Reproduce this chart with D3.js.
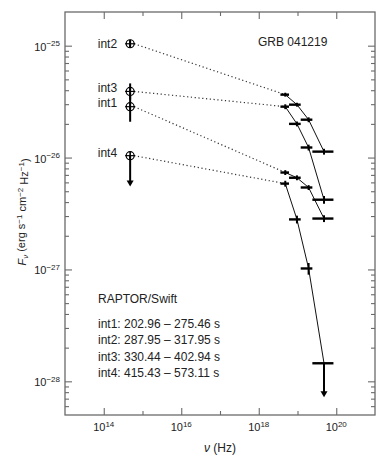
<!DOCTYPE html>
<html>
<head>
<meta charset="utf-8">
<script src="https://cdn.jsdelivr.net/npm/d3@7"></script>
<style>
body { margin: 0; background: #fff; }
text { font-family: Helvetica, Arial, "Liberation Sans", sans-serif; fill: #222; }
</style>
</head>
<body>
<div id="chart"></div>
<script>
// intervals and their time ranges
const intervals = ["int1", "int2", "int3", "int4"];
const timeRanges = ["202.96 \u2013 275.46 s", "287.95 \u2013 317.95 s", "330.44 \u2013 402.94 s", "415.43 \u2013 573.11 s"];

// RAPTOR optical point (Hz, erg s-1 cm-2 Hz-1)
const optNu = 4.8e14;
const optFlux = [2.85e-26, 1.04e-25, 3.9e-26, 1.04e-26];
const optLo = [2.09e-26, 0.96e-25, 3.3e-26, 5.5e-27];
const optHi = [3.55e-26, 1.12e-25, 4.6e-26, 1.04e-26];
const optLimit = [false, false, false, true];

// Swift BAT bands (keV)
const kevToHz = 2.418e17;
const batKeV = [20, 40, 80, 200];
const batLoKeV = [15, 25, 50, 100];
const batHiKeV = [25, 50, 100, 350];

const int1Flux = [7.35e-27, 6.6e-27, 5.4e-27, 2.85e-27];
const int2Flux = [3.65e-26, 2.97e-26, 2.18e-26, 1.13e-26];
const int3Flux = [2.85e-26, 2.0e-26, 1.23e-26, 4.2e-27];
const int4Flux = [5.85e-27, 2.8e-27, 1.02e-27, 1.45e-28];
// relative errors (null = upper limit)
const int1Err = [0.05, 0.05, 0.05, 0.07];
const int2Err = [0.04, 0.04, 0.05, 0.06];
const int3Err = [0.05, 0.05, 0.06, 0.08];
const int4Err = [0.06, 0.08, 0.12, null];
const int4LimitTo = 7.2e-29;

const xTickVals = [1e14, 1e15, 1e16, 1e17, 1e18, 1e19, 1e20];
const yTickVals = [1e-28, 1e-27, 1e-26, 1e-25];

const margin = { top: 12, right: 7, bottom: 43, left: 65 };
const width = 382 - margin.left - margin.right,
    height = 458 - margin.top - margin.bottom;

const svgRoot = d3.select("#chart").append("svg")
    .attr("width", 382)
    .attr("height", 458);
const svg = svgRoot.append("g")
    .attr("transform", `translate(${margin.left},${margin.top})`);

const x = d3.scaleLog().domain([1e13, 1e21]).range([0, width]);
const y = d3.scaleLog().domain([5e-29, 2e-25]).range([height, 0]);

const axisColor = "#6a6a6a";

// ---- axes / ticks ----
const evenDec = xTickVals.filter(v => Math.round(Math.log10(v)) % 2 === 0);
const oddDec = xTickVals.filter(v => Math.round(Math.log10(v)) % 2 !== 0);
const yMinor = [];
yTickVals.concat([1e-29]).forEach(d => {
    for (let k = 2; k <= 9; k++) {
        const v = k * d;
        if (v > 5e-29 && v < 2e-25) yMinor.push(v);
    }
});

function styleAxis(g) {
    g.select(".domain").remove();
    g.selectAll(".tick line").attr("stroke", axisColor).attr("stroke-width", 1.1);
    g.selectAll(".tick text").remove();
}

[[evenDec, 7], [oddDec, 4]].forEach(([vals, len]) => {
    svg.append("g").attr("transform", `translate(0,${height})`)
        .call(d3.axisBottom(x).tickValues(vals).tickSize(-len)).call(styleAxis);
    svg.append("g")
        .call(d3.axisTop(x).tickValues(vals).tickSize(-len)).call(styleAxis);
});
[[yTickVals, 7], [yMinor, 4]].forEach(([vals, len]) => {
    svg.append("g")
        .call(d3.axisLeft(y).tickValues(vals).tickSize(-len)).call(styleAxis);
    svg.append("g").attr("transform", `translate(${width},0)`)
        .call(d3.axisRight(y).tickValues(vals).tickSize(-len)).call(styleAxis);
});

svg.append("rect")
    .attr("width", width).attr("height", height)
    .attr("fill", "none").attr("stroke", axisColor).attr("stroke-width", 1.3);

function powerLabel(t, v) {
    const e = Math.round(Math.log10(v));
    t.append("tspan").text("10");
    t.append("tspan").attr("font-size", 8).attr("dy", "-0.55em")
        .text(e < 0 ? "\u2212" + (-e) : e);
}

svg.append("g").selectAll("text").data(evenDec).join("text")
    .attr("x", d => x(d)).attr("y", height + 16)
    .attr("text-anchor", "middle").attr("font-size", 11)
    .each(function (d) { powerLabel(d3.select(this), d); });

svg.append("g").selectAll("text").data(yTickVals).join("text")
    .attr("x", -5).attr("y", d => y(d) + 5)
    .attr("text-anchor", "end").attr("font-size", 11)
    .each(function (d) { powerLabel(d3.select(this), d); });

// axis titles
const xl = svg.append("text")
    .attr("x", width / 2).attr("y", height + 37)
    .attr("text-anchor", "middle").attr("font-size", 12);
xl.append("tspan").attr("font-style", "italic").text("\u03bd");
xl.append("tspan").text(" (Hz)");

const yl = svg.append("text")
    .attr("transform", `translate(-39,${200}) rotate(-90)`)
    .attr("text-anchor", "middle").attr("font-size", 11);
yl.append("tspan").attr("font-style", "italic").text("F");
yl.append("tspan").attr("font-style", "italic").attr("font-size", 8).attr("dy", "0.3em").text("\u03bd");
[[" (erg s", "\u22121"], [" cm", "\u22122"], [" Hz", "\u22121"]].forEach(([a, b], i) => {
    yl.append("tspan").attr("dy", i === 0 ? "-0.3em" : "0.45em").text(a);
    yl.append("tspan").attr("font-size", 8).attr("dy", "-0.45em").text(b);
});
yl.append("tspan").attr("dy", "0.45em").text(")");

// ---- data ----
const batNu = batKeV.map(e => e * kevToHz);
const xrayFlux = [int1Flux, int2Flux, int3Flux, int4Flux];
const xrayErr = [int1Err, int2Err, int3Err, int4Err];

const series = intervals.map((name, i) => ({
    name: name,
    pts: batNu.map((nu, j) => ({
        nu: nu, f: xrayFlux[i][j], err: xrayErr[i][j],
        lo: batLoKeV[j] * kevToHz, hi: batHiKeV[j] * kevToHz
    }))
}));

// dotted lines optical -> first BAT point
svg.append("g").selectAll("line").data(series).join("line")
    .attr("x1", x(optNu) + 4)
    .attr("y1", (d, i) => y(optFlux[i]))
    .attr("x2", d => x(d.pts[0].nu))
    .attr("y2", d => y(d.pts[0].f))
    .attr("stroke", "#333").attr("stroke-width", 1.2)
    .attr("stroke-dasharray", "1.2,2.6");

const line = d3.line().x(d => x(d.nu)).y(d => y(d.f));
svg.append("g").selectAll("path").data(series).join("path")
    .attr("d", d => line(d.pts))
    .attr("fill", "none").attr("stroke", "#111").attr("stroke-width", 1);

// BAT error bars
const allPts = series.flatMap(s => s.pts);
const eb = svg.append("g").attr("stroke", "#000");
eb.selectAll(".hbar").data(allPts).join("line")
    .attr("x1", d => x(d.lo)).attr("x2", d => x(d.hi))
    .attr("y1", d => y(d.f)).attr("y2", d => y(d.f))
    .attr("stroke-width", 2.4);
eb.selectAll(".vbar").data(allPts.filter(d => d.err !== null)).join("line")
    .attr("x1", d => x(d.nu)).attr("x2", d => x(d.nu))
    .attr("y1", d => y(d.f * (1 - d.err))).attr("y2", d => y(d.f * (1 + d.err)))
    .attr("stroke-width", 2);

function arrow(g, xp, y0, y1) {
    g.append("line").attr("x1", xp).attr("x2", xp).attr("y1", y0).attr("y2", y1 - 5)
        .attr("stroke", "#000").attr("stroke-width", 2);
    g.append("path").attr("d", `M${xp - 3.5},${y1 - 6}L${xp + 3.5},${y1 - 6}L${xp},${y1}Z`)
        .attr("fill", "#000");
}

// BAT upper limit
allPts.filter(d => d.err === null).forEach(d => {
    arrow(svg, x(d.nu), y(d.f), y(int4LimitTo));
});

// optical points
const ox = x(optNu);
intervals.forEach((name, i) => {
    const g = svg.append("g");
    if (optLimit[i]) {
        arrow(g, ox, y(optFlux[i]), y(optLo[i]));
    } else {
        g.append("line").attr("x1", ox).attr("x2", ox)
            .attr("y1", y(optLo[i])).attr("y2", y(optHi[i]))
            .attr("stroke", "#000").attr("stroke-width", 2);
    }
    g.append("circle").attr("cx", ox).attr("cy", y(optFlux[i])).attr("r", 4)
        .attr("fill", "none").attr("stroke", "#000").attr("stroke-width", 1.2);
    g.append("line").attr("x1", ox - 5).attr("x2", ox + 5)
        .attr("y1", y(optFlux[i])).attr("y2", y(optFlux[i]))
        .attr("stroke", "#000").attr("stroke-width", 1.2);
    g.append("line").attr("x1", ox).attr("x2", ox)
        .attr("y1", y(optFlux[i]) - 4).attr("y2", y(optFlux[i]) + 4)
        .attr("stroke", "#000").attr("stroke-width", 1.6);
});

// interval labels next to optical points
const labelNudge = { int1: 0, int2: 4, int3: 1, int4: 1 };
svg.append("g").selectAll("text").data(intervals).join("text")
    .attr("x", ox - 13)
    .attr("y", (d, i) => y(optFlux[i]) + labelNudge[d])
    .attr("text-anchor", "end").attr("font-size", 12)
    .text(d => d);

// annotations
svg.append("text").attr("x", 193).attr("y", 34).attr("font-size", 12).text("GRB 041219");
svg.append("text").attr("x", 33).attr("y", 291).attr("font-size", 12).text("RAPTOR/Swift");
svg.append("g").selectAll("text").data(intervals).join("text")
    .attr("x", 33).attr("y", (d, i) => 316 + i * 16.3)
    .attr("font-size", 12)
    .text((d, i) => d + ": " + timeRanges[i]);
</script>
</body>
</html>
